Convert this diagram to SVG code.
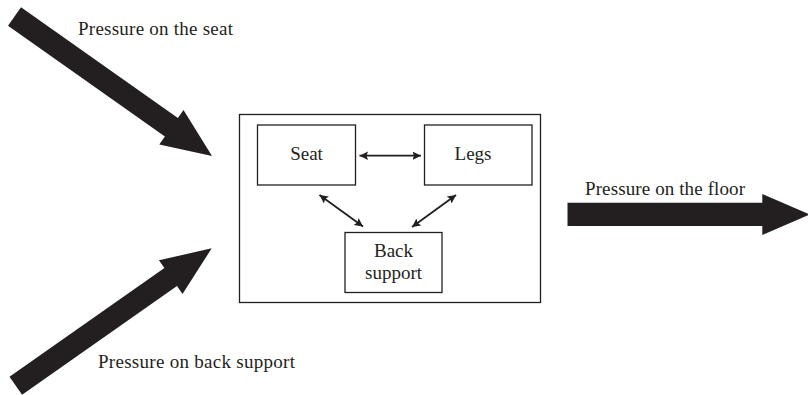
<svg xmlns="http://www.w3.org/2000/svg" width="808" height="395" viewBox="0 0 808 395">
  <defs>
    <marker id="tip" markerUnits="userSpaceOnUse" markerWidth="10" markerHeight="10" refX="8.5" refY="5" orient="auto-start-reverse">
      <path d="M0,0.8 L8.5,5 L0,9.2 L1.5,5 Z" fill="#231f20"/>
    </marker>
    <style>
      .box { fill: #ffffff; stroke: #231f20; stroke-width: 1.3; }
      .lbl { font-family: "Liberation Serif", "Times New Roman", serif; font-size: 19px; fill: #231f20; text-anchor: middle; }
      .cap { font-family: "Liberation Serif", "Times New Roman", serif; font-size: 19px; fill: #231f20; }
      .force { fill: #231f20; }
      .link { stroke: #231f20; stroke-width: 1.8; fill: none; marker-start: url(#tip); marker-end: url(#tip); }
    </style>
  </defs>

  <rect width="808" height="395" fill="#ffffff"/>

  <!-- external loads -->
  <g id="force-seat">
    <polygon class="force" points="8,25.7 21,7.3 177.9,118.1 183.5,110.1 212,156 159.3,144.5 164.9,136.5"/>
    <text class="cap" x="78" y="35" textLength="155" lengthAdjust="spacing">Pressure on the seat</text>
  </g>
  <g id="force-back">
    <polygon class="force" points="9.5,376.8 164.4,268.1 158.9,260.3 211.7,248.3 182.5,293.9 177,286.1 22.1,394.8"/>
    <text class="cap" x="98" y="368" textLength="197" lengthAdjust="spacing">Pressure on back support</text>
  </g>
  <g id="force-floor">
    <polygon class="force" points="567.5,202.7 762.3,202.7 762.3,194 810,214.5 762.3,235 762.3,226 567.5,226"/>
    <text class="cap" x="585" y="195" textLength="160" lengthAdjust="spacing">Pressure on the floor</text>
  </g>

  <!-- chair system -->
  <g id="chair">
    <rect class="box" x="239.5" y="114.5" width="301" height="188"/>
  </g>
  <g id="seat">
    <rect class="box" x="257.5" y="125" width="98" height="60"/>
    <text class="lbl" x="306.5" y="160">Seat</text>
  </g>
  <g id="legs">
    <rect class="box" x="424.5" y="125" width="107.5" height="60"/>
    <text class="lbl" x="473" y="160">Legs</text>
  </g>
  <g id="back-support">
    <rect class="box" x="345" y="232.5" width="97" height="60"/>
    <text class="lbl" x="393.5" y="256.5">Back</text>
    <text class="lbl" x="393.5" y="278.5">support</text>
  </g>

  <!-- interactions -->
  <g id="connectors">
    <line class="link" x1="359.5" y1="155.7" x2="421" y2="155.7"/>
    <line class="link" x1="319.5" y1="195" x2="363" y2="226.5"/>
    <line class="link" x1="456" y1="195" x2="412" y2="227"/>
  </g>
</svg>
